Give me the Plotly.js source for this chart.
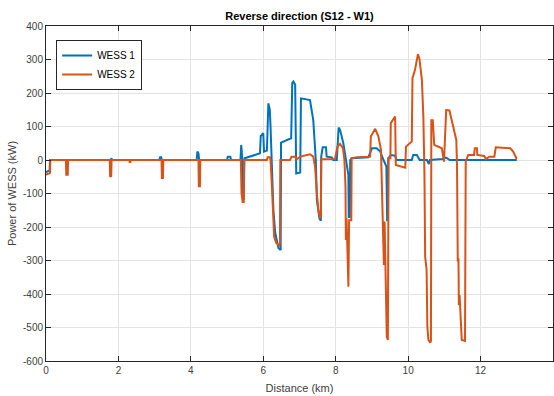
<!DOCTYPE html>
<html>
<head>
<meta charset="utf-8">
<script src="https://cdn.plot.ly/plotly-3.0.1.min.js"></script>
<style>html,body{margin:0;padding:0;background:#fff;}#chart{width:554px;height:396px;}</style>
</head>
<body>
<div id="chart"></div>
<script>
// WESS 1 (blue) – distance (km) and power (kW)
var wess1X = [0,0.03,0.1,0.11,1.78,1.79,1.81,1.82,3.13,3.15,3.18,3.2,4.16,4.18,4.21,4.23,5.0,5.02,5.09,5.11,
  5.37,5.39,5.41,5.43,5.46,5.48,5.91,5.93,6.0,6.02,6.1,6.14,6.18,6.2,6.23,6.28,6.33,6.42,6.48,6.49,6.77,6.8,6.83,6.88,6.91,7.02,7.04,7.2,7.29,7.38,7.45,7.48,7.55,7.59,7.6,7.64,7.73,7.75,7.89,7.93,8.03,8.08,8.12,8.21,8.28,8.31,8.35,8.36,8.39,8.4,8.44,8.9,9.0,9.13,9.23,9.32,9.38,9.4,9.42,9.44,9.45,9.52,9.64,9.68,10.1,10.14,10.24,10.32,10.52,10.57,10.6,10.95,11.05,11.15,13.0];
var wess1Y = [-35,-35,-30,0,0,5,5,0,0,8,8,0,0,25,20,0,0,10,10,0,
  0,45,20,-100,-119,5,20,72,80,25,28,169,150,100,-10,-150,-218,-263,-269,52,65,230,234,225,-40,-37,184,182,179,119,0,-119,-174,-181,10,38,38,10,8,0,0,97,90,50,0,-30,-45,-170,-170,0,5,8,35,35,25,0,-15,-20,-180,-180,5,15,13,0,0,15,15,0,0,-12,0,3,7,0,0];

// WESS 2 (orange)
var wess2X = [0,0.03,0.09,0.11,0.12,0.55,0.56,0.6,0.61,1.76,1.77,1.8,1.81,2.3,2.31,2.33,2.34,3.19,3.2,3.23,3.24,4.21,4.22,4.25,4.26,
  5.38,5.4,5.43,5.46,5.47,6.1,6.12,6.18,6.2,6.23,6.26,6.3,6.36,6.44,6.46,6.47,6.74,6.78,6.88,6.92,7.02,7.2,7.29,7.38,7.43,7.48,7.52,7.57,7.59,7.6,
  7.98,8.05,8.12,8.2,8.24,8.27,8.28,8.3,8.33,8.35,8.37,8.43,8.44,8.58,8.95,8.97,9.09,9.18,9.25,9.29,9.31,9.33,9.35,9.37,9.41,9.44,9.46,
  9.51,9.52,9.64,9.66,9.92,9.94,10.1,10.12,10.19,10.27,10.31,10.38,10.42,10.45,10.47,10.51,10.53,10.56,10.61,10.63,10.64,10.68,10.72,10.93,10.99,11.05,11.14,11.25,11.33,11.35,11.36,11.37,11.39,11.4,11.42,11.46,11.48,11.57,11.59,11.66,11.82,11.84,11.9,11.91,12.1,12.15,12.24,12.38,12.42,12.82,12.9,13.0];
var wess2Y = [-45,-42,-40,-38,0,0,-44,-44,0,0,-50,-48,0,0,-6,-6,0,0,-54,-54,0,0,-78,-78,0,
  0,-100,-125,-125,0,0,8,8,0,-60,-160,-229,-248,-255,-250,0,0,10,10,2,10,15,17,10,-20,-100,-150,-174,-170,2,
  3,40,48,35,0,-80,-239,-174,-378,-378,-180,-180,5,8,10,70,93,70,30,-130,-180,-313,-184,-328,-527,-537,5,
  5,110,130,-15,-23,40,55,244,269,316,303,239,129,-40,-289,-328,-497,-537,-545,-540,119,119,45,35,-5,149,148,100,60,-20,-134,-303,-293,-433,-403,-517,-537,-540,-5,15,15,35,35,15,12,3,10,10,38,35,25,3];

var xTicks = [0,2,4,6,8,10,12,14];
var yTicks = [400,300,200,100,0,-100,-200,-300,-400,-500,-600];
var yTickLabels = ['400','300','200','100','0','-100','-200','-300','-400','-500','-600'];

var font = 'Liberation Sans, Arial, Helvetica, sans-serif';
var axisColor = '#262626';

var traces = [
  {x: wess1X, y: wess1Y, type: 'scatter', mode: 'lines', name: 'WESS 1',
   line: {color: '#0072BD', width: 2}},
  {x: wess2X, y: wess2Y, type: 'scatter', mode: 'lines', name: 'WESS 2',
   line: {color: '#D95319', width: 2}}
];

var layout = {
  width: 554, height: 396,
  margin: {l: 46, r: 1, t: 26, b: 35},
  paper_bgcolor: '#ffffff', plot_bgcolor: '#ffffff',
  font: {family: font, size: 10, color: '#404040'},
  title: {text: '<b>Reverse direction (S12 - W1)</b>', font: {family: font, size: 11, color: '#000000'},
          x: 0.5, xref: 'paper', xanchor: 'center', y: 1 - 16/396, yref: 'container', yanchor: 'middle'},
  xaxis: {range: [0, 14], tickvals: xTicks, ticktext: xTicks.map(String),
          showline: true, linecolor: axisColor, linewidth: 1, mirror: 'ticks',
          ticks: 'inside', ticklen: 5, tickcolor: axisColor,
          showgrid: true, gridcolor: '#e3e3e3', gridwidth: 1, zeroline: false,
          tickfont: {family: font, size: 10, color: '#404040'},
          title: {text: 'Distance (km)', font: {family: font, size: 11, color: '#404040'}, standoff: 9}},
  yaxis: {range: [-600, 400], tickvals: yTicks, ticktext: yTickLabels,
          showline: true, linecolor: axisColor, linewidth: 1, mirror: 'ticks',
          ticks: 'inside', ticklen: 5, tickcolor: axisColor,
          showgrid: true, gridcolor: '#e3e3e3', gridwidth: 1, zeroline: false,
          tickfont: {family: font, size: 10, color: '#404040'},
          title: {text: 'Power of WESS (kW)', font: {family: font, size: 11, color: '#404040'}, standoff: 4}},
  legend: {x: 0.02, y: 0.958, xanchor: 'left', yanchor: 'top',
           bgcolor: '#ffffff', bordercolor: axisColor, borderwidth: 1,
           font: {family: font, size: 10, color: '#000000'},
           itemwidth: 30, tracegroupgap: 0},
  showlegend: true
};

Plotly.newPlot('chart', traces, layout, {staticPlot: true, displayModeBar: false});
</script>
</body>
</html>
